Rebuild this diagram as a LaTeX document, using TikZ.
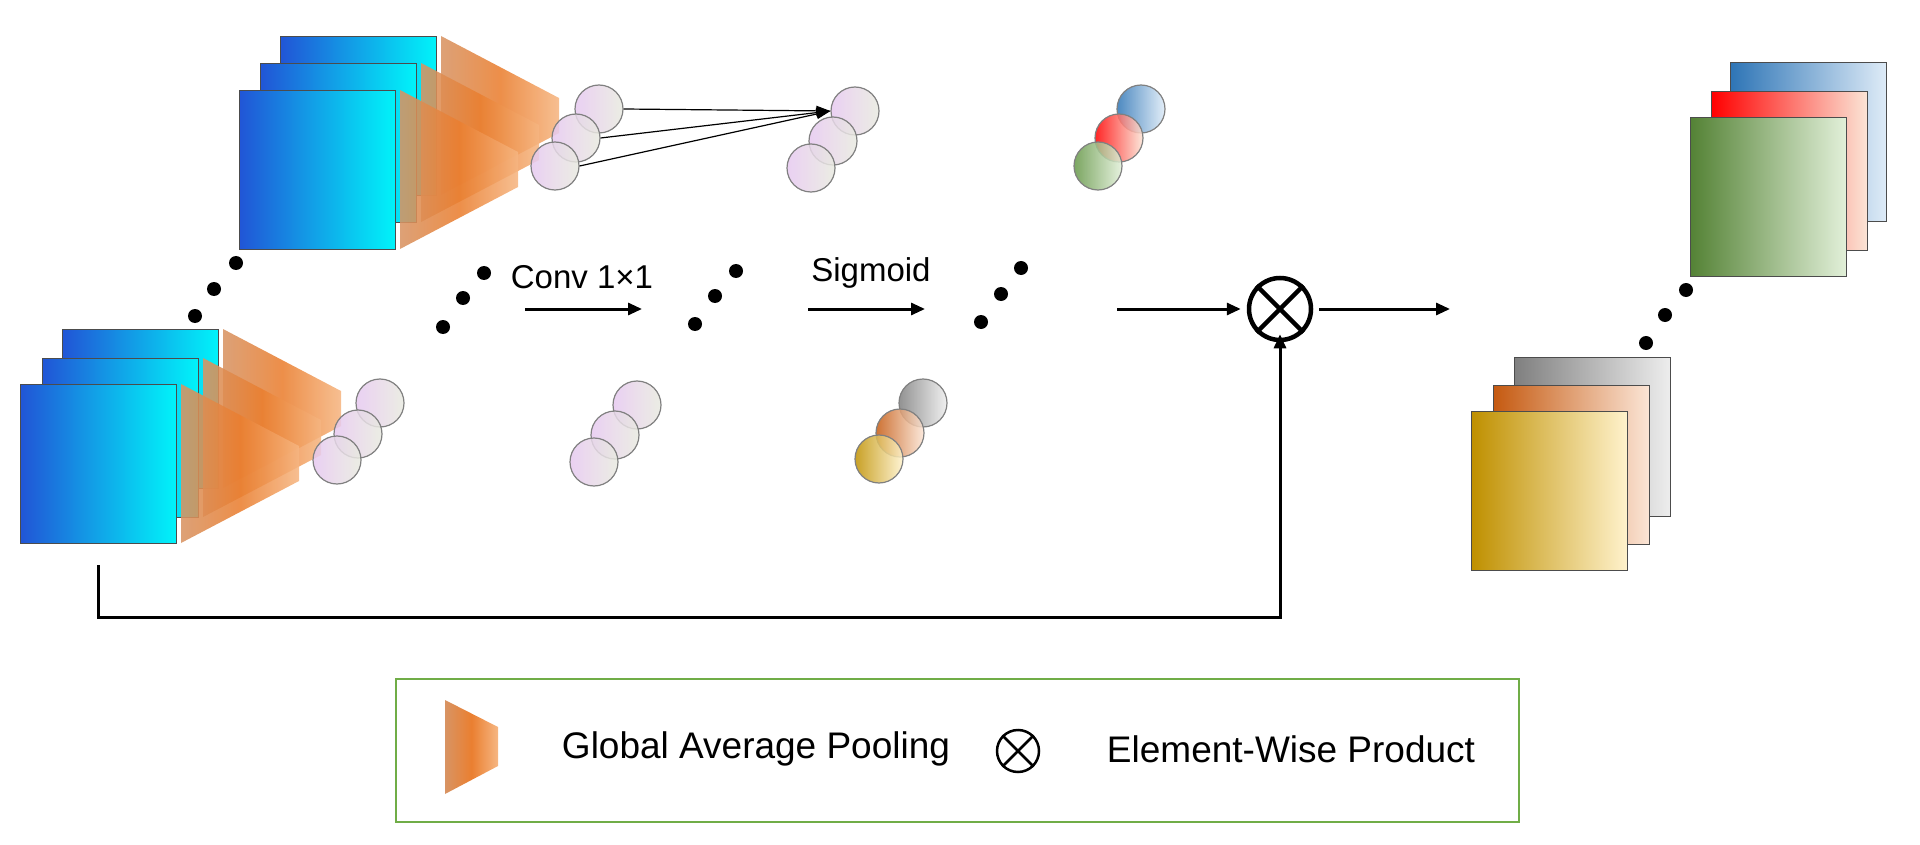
\documentclass[tikz,border=0pt]{standalone}
\usepackage{fontspec}
\setmainfont{Liberation Sans}
\usetikzlibrary{arrows.meta}
\definecolor{bA}{HTML}{2155D6}\definecolor{bB}{HTML}{00F4FA}
\definecolor{oA}{HTML}{D89464}\definecolor{oM}{HTML}{EA7F30}\definecolor{oB}{HTML}{F6B682}
\definecolor{cA}{HTML}{E6C8F0}\definecolor{cB}{HTML}{E8EADF}
\tikzset{
  fmap/.style={draw=black!70,line width=1pt,rectangle,minimum width=156pt,minimum height=159pt,anchor=north west,inner sep=0pt},
  gap/.style={left color=oA,right color=oB,middle color=oM,fill opacity=0.88},
  ball/.style={circle,draw=gray,line width=1.2pt,minimum size=48pt,inner sep=0pt,fill opacity=0.85},
  dot/.style={circle,fill=black,minimum size=14pt,inner sep=0pt},
  arr/.style={line width=3pt,-{Triangle[length=14pt,width=12pt]}},
  lbl/.style={font=\fontsize{33}{36}\selectfont}
}
\newcommand\fmp[5]{\node[fmap,left color=#3,right color=#4] (#5) at (#1,#2) {};}
\newcommand\gp[2]{\shade[gap] (#1,#2) -- (#1+118,#2+62) -- (#1+118,#2+97) -- (#1,#2+159) -- cycle;}
\begin{document}
\begin{tikzpicture}[x=1pt,y=-1pt]
\useasboundingbox (0,0) rectangle (1920,845);
% top-left stack
\fmp{280}{36}{bA}{bB}{t1}\gp{441}{36}
\fmp{260}{63}{bA}{bB}{t2}\gp{421}{63}
\fmp{239}{90}{bA}{bB}{t3}\gp{400}{90}
% bottom-left stack
\fmp{62}{329}{bA}{bB}{b1}\gp{223}{329}
\fmp{42}{358}{bA}{bB}{b2}\gp{203}{358}
\fmp{20}{384}{bA}{bB}{b3}\gp{181}{384}
% circles
\foreach \n/\x/\y in {p1/599/109,p2/576/138,p3/555/166, q1/855/111,q2/833/141,q3/811/168,
  r1/380/403,r2/358/434,r3/337/460, s1/637/405,s2/615/435,s3/594/462}
  \node[ball,left color=cA,right color=cB] (\n) at (\x,\y) {};
\node[ball,left color=black!50,right color=black!7] (g1) at (923,403) {};
\node[ball,left color={rgb,255:red,197;green,90;blue,17},right color={rgb,255:red,251;green,229;blue,214}] (g2) at (900,433) {};
\node[ball,left color={rgb,255:red,191;green,144;blue,0},right color={rgb,255:red,255;green,242;blue,204}] (g3) at (879,459) {};
\node[ball,left color={rgb,255:red,46;green,117;blue,182},right color={rgb,255:red,222;green,235;blue,247}] (h1) at (1141,109) {};
\node[ball,left color=red,right color={rgb,255:red,251;green,229;blue,214}] (h2) at (1119,138) {};
\node[ball,left color={rgb,255:red,100;green,150;blue,70},right color={rgb,255:red,226;green,240;blue,217}] (h3) at (1098,166) {};
% fan lines
\foreach \s in {p1,p2,p3} \draw[line width=1.2pt,-{Triangle[length=14pt,width=10pt]}] (\s.east) -- (q1.west);
% dots
\foreach \n/\x/\y in {d1/236/263,d2/214/289,d3/195/316,e1/484/273,e2/463/298,e3/443/327,
  f1/736/271,f2/715/296,f3/695/324,k1/1021/268,k2/1001/294,k3/981/322,
  m1/1686/290,m2/1665/315,m3/1646/343}
  \node[dot] (\n) at (\x,\y) {};
% labels and arrows
\node[lbl] (conv) at (582,277) {Conv 1×1};
\node[lbl] (sig) at (871,273) {Sigmoid};
\coordinate (a1) at (525,309); \coordinate (a2) at (642,309);
\coordinate (c1) at (808,309); \coordinate (c2) at (925,309);
\coordinate (k0) at (1117,309);
\coordinate (o2) at (1450,309);
\draw[arr] (a1) -- (a2);
\draw[arr] (c1) -- (c2);
\node[circle,draw,line width=4.5pt,minimum size=62pt,inner sep=0pt] (ot) at (1280,309) {};
\draw[line width=4.5pt] (ot.45) -- (ot.225) (ot.135) -- (ot.315);
\draw[arr] (k0) -- ([xshift=-6pt]ot.west);
\draw[arr] ([xshift=6pt]ot.east) -- (o2);
\coordinate (sk) at (98,565);
\draw[arr] (sk) -- (98,617) -| ([yshift=8pt]ot.south);
% right stacks
\fmp{1730}{62}{{rgb,255:red,46;green,117;blue,182}}{{rgb,255:red,222;green,235;blue,247}}{u1}
\fmp{1711}{91}{red}{{rgb,255:red,251;green,229;blue,214}}{u2}
\fmp{1690}{117}{{rgb,255:red,84;green,130;blue,53}}{{rgb,255:red,226;green,240;blue,217}}{u3}
\fmp{1514}{357}{black!50}{black!7}{v1}
\fmp{1493}{385}{{rgb,255:red,197;green,90;blue,17}}{{rgb,255:red,251;green,229;blue,214}}{v2}
\fmp{1471}{411}{{rgb,255:red,191;green,144;blue,0}}{{rgb,255:red,255;green,242;blue,204}}{v3}
% legend
\node[draw={rgb,255:red,112;green,173;blue,71},line width=2pt,minimum width=1123pt,minimum height=143pt,anchor=north west] (leg) at (395,678) {};
\shade[left color=oA,right color=oB,middle color=oM] (445,700) -- (498,727) -- (498,766) -- (445,794) -- cycle;
\node[font=\fontsize{37}{40}\selectfont] (t1l) at (756,749) {Global Average Pooling};
\node[circle,draw,line width=2.5pt,minimum size=42pt,inner sep=0pt] (lo) at (1018,751) {};
\draw[line width=2.5pt] (lo.45) -- (lo.225) (lo.135) -- (lo.315);
\node[font=\fontsize{37}{40}\selectfont] (t2l) at (1291,749) {Element-Wise Product};
\end{tikzpicture}
\end{document}
